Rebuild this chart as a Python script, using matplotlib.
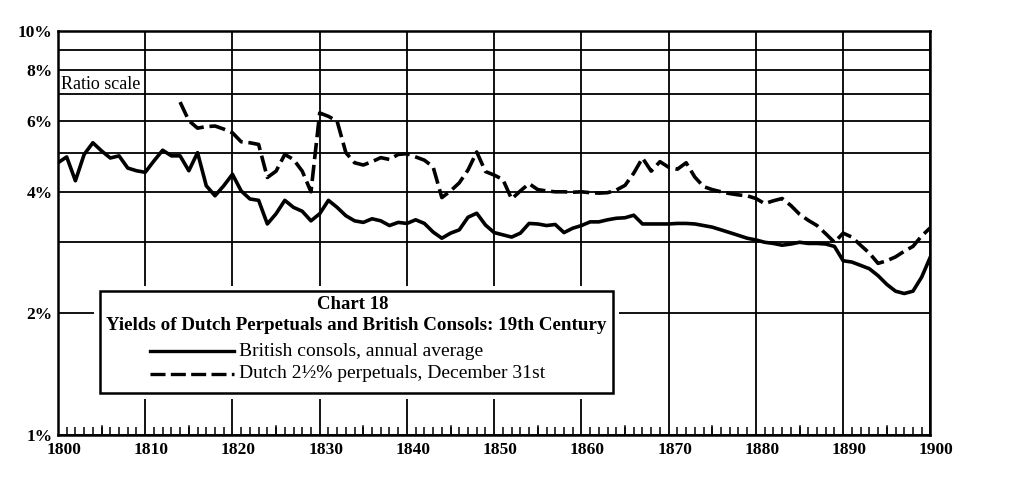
import matplotlib
matplotlib.use("Agg")
import matplotlib.pyplot as plt
import matplotlib.transforms as mtransforms
from matplotlib.patches import Rectangle
from matplotlib.lines import Line2D
from matplotlib.ticker import FixedLocator, NullFormatter

# British consols, annual average (percent), 1800-1900
british_years = list(range(1800, 1901))
british = [4.72, 4.88, 4.26, 4.95, 5.29, 5.05, 4.85, 4.91, 4.58, 4.51,
           4.47, 4.77, 5.07, 4.91, 4.91, 4.51, 5.00, 4.14, 3.91, 4.14,
           4.42, 4.02, 3.84, 3.81, 3.33, 3.53, 3.81, 3.66, 3.58, 3.39,
           3.53, 3.81, 3.66, 3.49, 3.39, 3.36, 3.43, 3.39, 3.30, 3.36,
           3.34, 3.41, 3.34, 3.18, 3.07, 3.16, 3.22, 3.46, 3.54, 3.31,
           3.17, 3.13, 3.09, 3.16, 3.34, 3.33, 3.30, 3.32, 3.17, 3.25,
           3.30, 3.37, 3.37, 3.41, 3.44, 3.45, 3.50, 3.33, 3.33, 3.33,
           3.33, 3.34, 3.34, 3.33, 3.30, 3.27, 3.22, 3.17, 3.12, 3.07,
           3.04, 3.00, 2.98, 2.95, 2.97, 3.00, 2.98, 2.98, 2.97, 2.93,
           2.70, 2.68, 2.63, 2.58, 2.48, 2.36, 2.27, 2.24, 2.27, 2.46,
           2.76]

# Dutch 2 1/2% perpetuals, December 31st (percent), 1814-1900
dutch_years = list(range(1814, 1901))
dutch = [6.67, 6.00, 5.75, 5.80, 5.82, 5.72,
         5.60, 5.32, 5.29, 5.24, 4.34, 4.50, 4.95, 4.81, 4.50, 4.00,
         6.27, 6.15, 5.98, 5.00, 4.72, 4.66, 4.75, 4.86, 4.81, 4.95,
         4.97, 4.88, 4.79, 4.61, 3.87, 4.02, 4.21, 4.53, 5.02, 4.49,
         4.40, 4.29, 3.84, 4.02, 4.19, 4.05, 4.02, 4.00, 4.00, 3.99,
         4.00, 3.98, 3.97, 3.98, 4.04, 4.15, 4.45, 4.85, 4.50, 4.75,
         4.60, 4.55, 4.72, 4.35, 4.12, 4.05, 4.00, 3.96, 3.93, 3.91,
         3.85, 3.74, 3.80, 3.85, 3.70, 3.52, 3.40, 3.30, 3.15, 3.00,
         3.16, 3.09, 2.95, 2.82, 2.66, 2.70, 2.76, 2.85, 2.93, 3.11,
         3.26]

y_labels = [1, 2, 4, 6, 8, 10]
y_grid = [3, 5, 7, 9]
decades = list(range(1800, 1901, 10))

serif = "Liberation Serif"

fig = plt.figure(figsize=(10.24, 4.78), dpi=100)
ax = fig.add_axes([0.0566, 0.090, 0.852, 0.845])

ax.plot(british_years, british, color="black", lw=2.6, solid_joinstyle="round",
        zorder=2.5)
ax.plot(dutch_years, dutch, color="black", lw=2.6, dashes=(4.5, 1.6),
        dash_capstyle="butt", zorder=2.5)

ax.set_yscale("log")
ax.set_ylim(1, 10)
ax.set_xlim(1800, 1900)

ax.yaxis.set_major_locator(FixedLocator(y_labels))
ax.yaxis.set_minor_locator(FixedLocator(y_grid))
ax.yaxis.set_major_formatter(plt.FuncFormatter(lambda v, p: "%d%%" % v))
ax.yaxis.set_minor_formatter(NullFormatter())
ax.set_xticks(decades)
ax.xaxis.set_minor_locator(FixedLocator(range(1800, 1901)))

ax.grid(True, axis="y", which="both", color="black", lw=1.3, zorder=1)
ax.grid(True, axis="x", which="major", color="black", lw=1.3, zorder=1)

ax.tick_params(axis="y", which="both", length=0, pad=4)
ax.tick_params(axis="x", which="major", length=0, pad=5)
ax.tick_params(axis="x", which="minor", direction="in", length=6, width=1.1,
               top=False)
shift = mtransforms.ScaledTranslation(6 / 100, 0, fig.dpi_scale_trans)
for lab in ax.get_xticklabels():
    lab.set_transform(lab.get_transform() + shift)
for lab in ax.get_xticklabels() + ax.get_yticklabels():
    lab.set_fontfamily(serif)
    lab.set_fontweight("bold")
    lab.set_fontsize(12.5)

# longer ticks every 5 years
for yr in range(1805, 1900, 10):
    ax.plot([yr, yr], [1, 1.055], color="black", lw=1.1, zorder=1,
            clip_on=False)

for s in ax.spines.values():
    s.set_linewidth(1.8)
    s.set_color("black")

ax.text(0.003, 0.868, "Ratio scale", transform=ax.transAxes, fontsize=13,
        family=serif, va="center", ha="left", zorder=5)

# chart box
bx0, by0, bx1, by1 = 0.048, 0.104, 0.636, 0.356
pad = 0.007
ax.add_patch(Rectangle((bx0 - pad, by0 - 0.014), bx1 - bx0 + 2 * pad,
                       by1 - by0 + 0.028, transform=ax.transAxes,
                       facecolor="white", edgecolor="none", zorder=3))
ax.add_patch(Rectangle((bx0, by0), bx1 - bx0, by1 - by0, transform=ax.transAxes,
                       facecolor="white", edgecolor="black", lw=1.8, zorder=4))
cx = (bx0 + bx1) / 2
ax.text(cx - 0.004, 0.322, "Chart 18", transform=ax.transAxes, fontsize=13.5,
        family=serif, weight="bold", ha="center", va="center", zorder=5)
ax.text(cx, 0.270, "Yields of Dutch Perpetuals and British Consols: 19th Century",
        transform=ax.transAxes, fontsize=13.7, family=serif, weight="bold",
        ha="center", va="center", zorder=5)
ax.add_line(Line2D([0.106, 0.202], [0.207, 0.207], transform=ax.transAxes,
                   color="black", lw=2.4, zorder=5))
ax.add_line(Line2D([0.106, 0.202], [0.151, 0.151], transform=ax.transAxes,
                   color="black", lw=2.4, dashes=(4.5, 1.6), zorder=5))
ax.text(0.208, 0.207, "British consols, annual average", transform=ax.transAxes,
        fontsize=14, family=serif, ha="left", va="center", zorder=5)
ax.text(0.208, 0.151, "Dutch 2\u00bd% perpetuals, December 31st",
        transform=ax.transAxes, fontsize=14, family=serif, ha="left",
        va="center", zorder=5)

fig.savefig("out.png", dpi=100)
